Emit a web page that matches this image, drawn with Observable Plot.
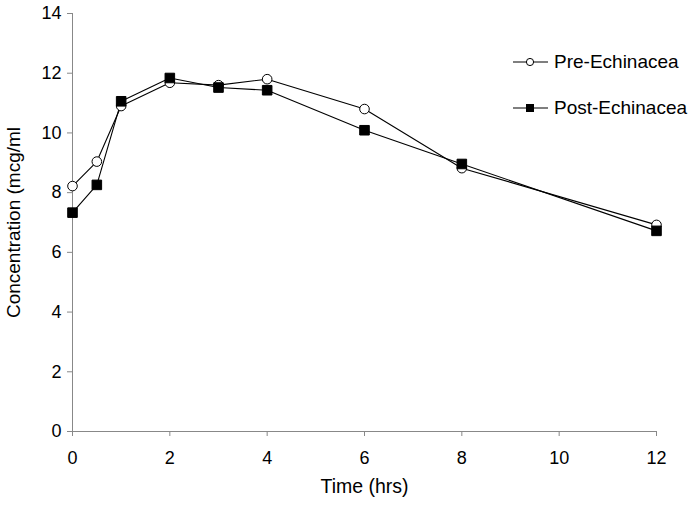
<!DOCTYPE html>
<html>
<head>
<meta charset="utf-8">
<script src="https://cdn.jsdelivr.net/npm/d3@7"></script>
<script src="https://cdn.jsdelivr.net/npm/@observablehq/plot@0.6"></script>
<style>
  html, body { margin: 0; padding: 0; background: #fff; }
  #wrap { position: relative; width: 695px; height: 505px; font-family: "Liberation Sans", Arial, sans-serif; }
  #legend { position: absolute; left: 513px; top: 44px; font-size: 19px; color: #000; }
  .item { display: flex; align-items: center; height: 36px; }
  .item svg { margin-right: 5px; }
</style>
</head>
<body>
<div id="wrap"></div>
<script>
const times = [0, 0.5, 1, 2, 3, 4, 6, 8, 12];
const preEchinacea = [8.22, 9.04, 10.9, 11.68, 11.6, 11.8, 10.8, 8.82, 6.92];
const postEchinacea = [7.33, 8.26, 11.06, 11.84, 11.52, 11.43, 10.09, 8.96, 6.72];
const seriesNames = ["Pre-Echinacea", "Post-Echinacea"];
const xTicks = [0, 2, 4, 6, 8, 10, 12];
const yTicks = [0, 2, 4, 6, 8, 10, 12, 14];

const pre = times.map((t, i) => ({t, v: preEchinacea[i]}));
const post = times.map((t, i) => ({t, v: postEchinacea[i]}));

const axisColor = "#888";
const plot = Plot.plot({
  width: 695,
  height: 505,
  marginLeft: 72,
  marginRight: 39,
  marginTop: 13,
  marginBottom: 74,
  style: {fontFamily: "'Liberation Sans', Arial, sans-serif", fontSize: "18px", color: "#000", background: "#fff"},
  x: {domain: [0, 12]},
  y: {domain: [0, 14]},
  marks: [
    Plot.ruleX([0], {stroke: axisColor, strokeWidth: 1}),
    Plot.ruleY([0], {stroke: axisColor, strokeWidth: 1}),
    Plot.axisX({ticks: xTicks, tickSize: 5, tickPadding: 15, stroke: axisColor, label: null, fill: "#000", fontSize: 18}),
    Plot.axisY({ticks: yTicks, tickSize: 5, tickPadding: 6, stroke: axisColor, label: null, fill: "#000", fontSize: 18}),
    Plot.axisX({ticks: [], label: "Time (hrs)", labelAnchor: "center", labelArrow: "none", labelOffset: 61, fontSize: 19.5}),
    Plot.axisY({ticks: [], label: "Concentration (mcg/ml", labelAnchor: "center", labelArrow: "none", labelOffset: 66, fontSize: 19}),
    Plot.line(pre, {x: "t", y: "v", stroke: "#000", strokeWidth: 1.1}),
    Plot.line(post, {x: "t", y: "v", stroke: "#000", strokeWidth: 1.1}),
    Plot.dot(pre, {x: "t", y: "v", symbol: "circle", r: 4.8, fill: "#fff", stroke: "#000", strokeWidth: 1}),
    Plot.dot(post, {x: "t", y: "v", symbol: "square", r: 5.4, fill: "#000", stroke: "#000", strokeWidth: 1})
  ]
});
const wrap = document.getElementById("wrap");
wrap.appendChild(plot);

const legend = document.createElement("div");
legend.id = "legend";
legend.innerHTML = `
  <div class="item"><svg width="36" height="14"><line x1="0" y1="7" x2="35" y2="7" stroke="#000" stroke-width="1.1"/><circle cx="17" cy="7" r="3.6" fill="#fff" stroke="#000"/></svg><span>${seriesNames[0]}</span></div>
  <div class="item" style="margin-top:10px"><svg width="36" height="14"><line x1="0" y1="7" x2="35" y2="7" stroke="#000" stroke-width="1.1"/><rect x="13" y="3" width="8" height="8" fill="#000"/></svg><span>${seriesNames[1]}</span></div>`;
wrap.appendChild(legend);
</script>
</body>
</html>
